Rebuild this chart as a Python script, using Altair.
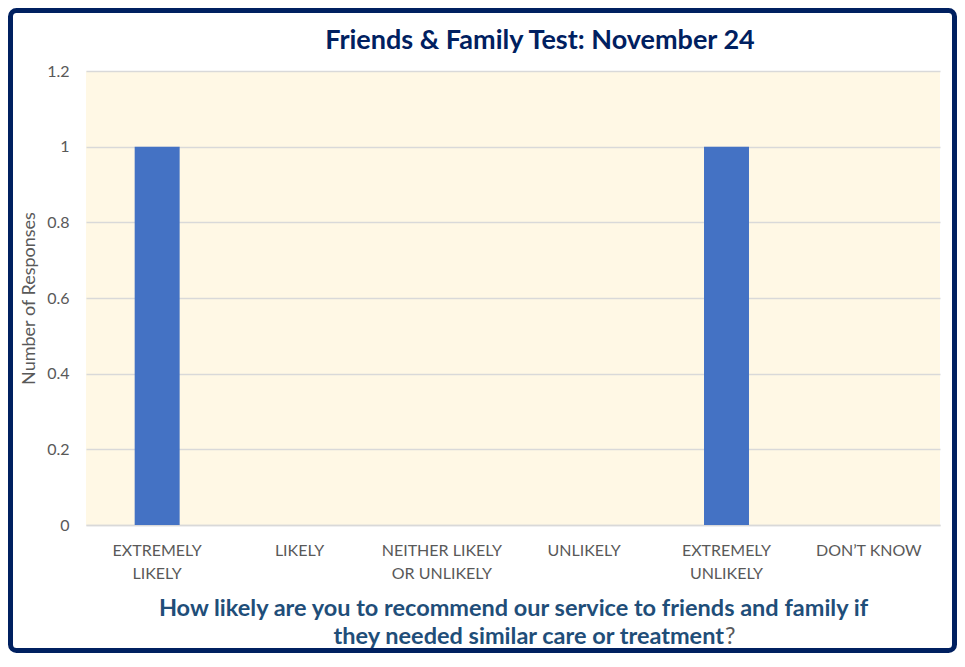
import altair as alt
import pandas as pd

categories = ["EXTREMELY\nLIKELY", "LIKELY", "NEITHER LIKELY\nOR UNLIKELY", "UNLIKELY",
              "EXTREMELY\nUNLIKELY", "DON\u2019T KNOW"]
responses = [1, 0, 0, 0, 1, 0]
y_ticks = [0, 0.2, 0.4, 0.6, 0.8, 1.0, 1.2]

title_text = "Friends & Family Test: November 24"
x_title_line1 = "How likely are you to recommend our service to friends and family if"
x_title_line2 = "they needed similar care or treatment"
x_title_end = "?"
y_title = "Number of Responses"

df = pd.DataFrame({"category": categories, "responses": responses})

FONT = "Lato"
NAVY = "#002060"
BLUE_T = "#1F4E79"

bars = alt.Chart(df).mark_bar(color="#4472C4").encode(
    x=alt.X("category:N", sort=categories,
            scale=alt.Scale(paddingInner=0.684, paddingOuter=0.342),
            axis=alt.Axis(title=x_title_line1, labelAngle=0, ticks=False,
                          labelExpr="split(datum.label, '\\n')",
                          labelFont=FONT, labelFontSize=16, labelColor="#595959",
                          labelLineHeight=23, labelPadding=17, labelLimit=200,
                          domainColor="#D9D9D9", domainWidth=1.5,
                          titleFont=FONT, titleFontSize=23.5, titleFontWeight="bold",
                          titleColor=BLUE_T, titlePadding=15)),
    y=alt.Y("responses:Q", scale=alt.Scale(domain=[0, 1.2], nice=False),
            axis=alt.Axis(title=y_title, values=y_ticks, format="~g", ticks=False,
                          domain=False, grid=True, gridColor="#D9D9D9", gridWidth=1.5,
                          labelFont=FONT, labelFontSize=16, labelColor="#595959",
                          labelPadding=17,
                          titleFont=FONT, titleFontSize=18, titleFontWeight="normal",
                          titleColor="#595959", titlePadding=8)),
)

title = alt.Chart(alt.Data(values=[{"t": title_text}])).mark_text(
    font=FONT, fontSize=27, fontWeight="bold", color=NAVY,
    align="center", baseline="alphabetic", clip=False
).encode(text="t:N", x=alt.value(454), y=alt.value(-22))

line2 = alt.Chart(alt.Data(values=[{"t": x_title_line2}])).mark_text(
    font=FONT, fontSize=23.5, fontWeight="bold", color=BLUE_T,
    align="right", baseline="alphabetic", clip=False
).encode(text="t:N", x=alt.value(638), y=alt.value(573))

qmark = alt.Chart(alt.Data(values=[{"t": x_title_end}])).mark_text(
    font=FONT, fontSize=23.5, fontWeight="normal", color="#595959",
    align="left", baseline="alphabetic", clip=False
).encode(text="t:N", x=alt.value(639), y=alt.value(573))

border = alt.Chart(alt.Data(values=[{"b": 1}])).mark_rect(
    fill=None, stroke=NAVY, strokeWidth=5, cornerRadius=6, clip=False
).encode(
    x=alt.value(-75.5), x2=alt.value(868.5),
    y=alt.value(-60.5), y2=alt.value(579.5),
)

chart = alt.layer(bars, title, line2, qmark, border).properties(
    width=854, height=454,
    padding={"left": 78, "top": 63, "right": 17, "bottom": 128},
    autosize=alt.AutoSizeParams(type="none"),
    background="white",
).configure_view(fill="#FFF8E5", stroke=None)

chart.save("out.html", embed_options={"renderer": "svg", "actions": False})
